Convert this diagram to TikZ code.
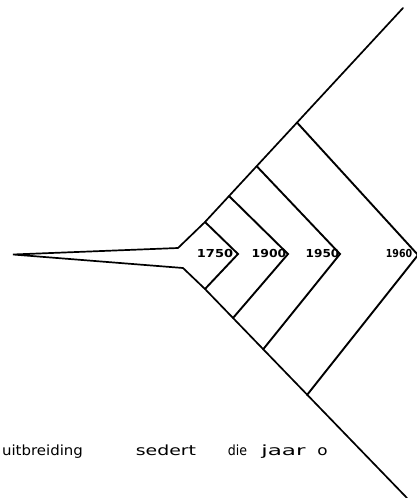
\documentclass[tikz,border=0pt]{standalone}
\usepackage{fontspec}
\setmainfont{DejaVu Sans}
\begin{document}
\begin{tikzpicture}[x=1pt,y=-1pt,
  outline/.style={line width=1.7pt,line join=miter,line cap=round},
  chev/.style={line width=1.9pt,line join=miter,line cap=round},
  yearlbl/.style={font=\fontsize{11}{12}\selectfont\bfseries,inner sep=0pt,transform shape},
  word/.style={font=\fontsize{14}{16}\selectfont,inner sep=0pt,anchor=base,transform shape}]
\fill[white] (0,0) rectangle (417,498);
\useasboundingbox (0,0) rectangle (417,498);
% outline points
\coordinate (utop) at (403,8);
\coordinate (ujoin) at (205,222);
\coordinate (uflare) at (178,248);
\coordinate (tip) at (13,254.5);
\coordinate (lflare) at (183,268);
\coordinate (ljoin) at (205,289);
\coordinate (lend) at (407,498);
\draw[outline] (utop) -- (ujoin) -- (uflare) -- (tip) -- (lflare) -- (ljoin) -- (lend);
% chevrons
\coordinate (c1t) at (205,222); \coordinate (c1p) at (238,254); \coordinate (c1b) at (205,289);
\coordinate (c2t) at (229,196); \coordinate (c2p) at (288,254); \coordinate (c2b) at (233,318);
\coordinate (c3t) at (257,166.5); \coordinate (c3p) at (340,254); \coordinate (c3b) at (263,349.5);
\coordinate (c4t) at (297,122.5); \coordinate (c4p) at (418,255); \coordinate (c4b) at (307,395);
\draw[chev] (c1t) -- (c1p) -- (c1b);
\draw[chev] (c2t) -- (c2p) -- (c2b);
\draw[chev] (c3t) -- (c3p) -- (c3b);
\draw[chev] (c4t) -- (c4p) -- (c4b);
% year labels
\node[yearlbl,xscale=1.18] (y1750) at (215,253.5) {1750};
\node[yearlbl,xscale=1.13] (y1900) at (269,253.5) {1900};
\node[yearlbl,xscale=1.1] (y1950) at (322.5,253.5) {1950};
\node[yearlbl,xscale=0.86] (y1960) at (399,253.5) {1960};
% caption words
\node[word,xscale=1.07] (w1) at (42.5,455) {uitbreiding};
\node[word,xscale=1.35] (w2) at (166,455) {sedert};
\node[word,xscale=0.9] (w3) at (237.5,455) {die};
\node[word,xscale=1.65] (w4) at (283.5,455) {jaar};
\node[word,xscale=1.2] (w5) at (322.5,455) {o};
\end{tikzpicture}
\end{document}
